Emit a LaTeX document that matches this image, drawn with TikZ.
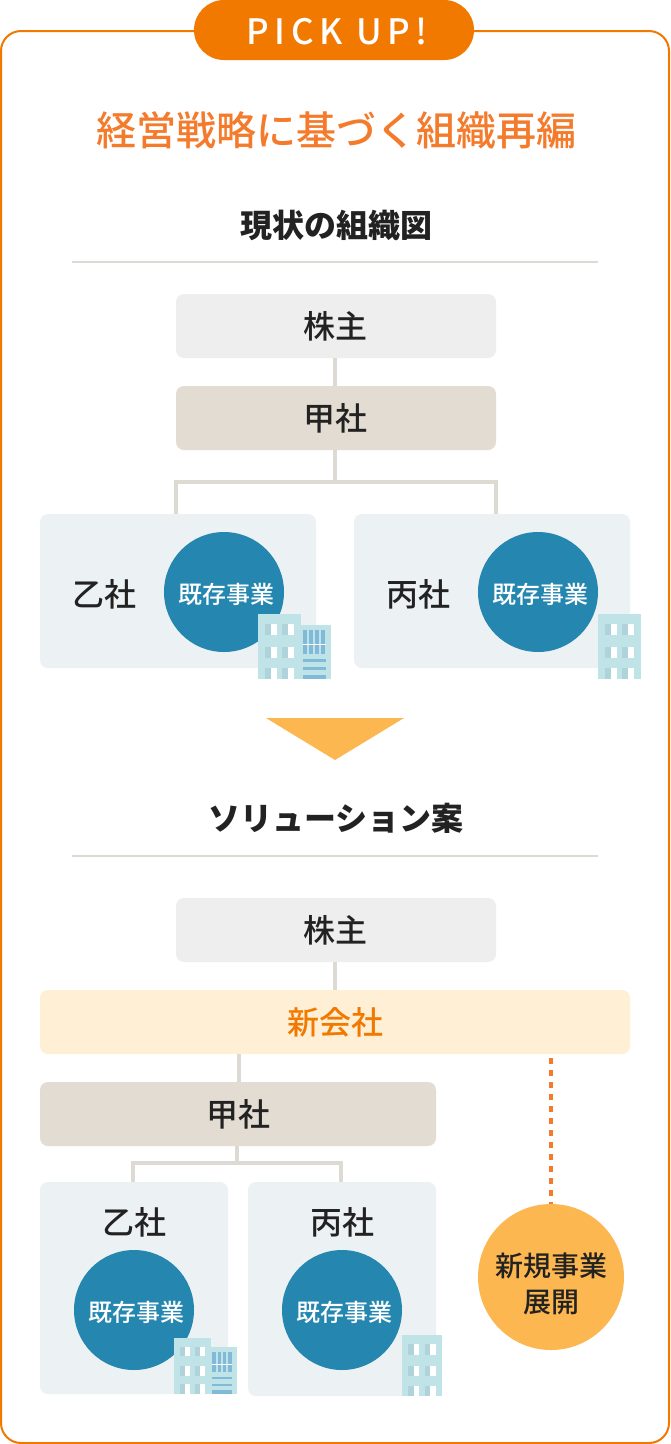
\documentclass[tikz,border=0pt]{standalone}
\usepackage{fontspec}
\setmainfont{Noto Sans CJK JP}
\newfontfamily\med{Noto Sans CJK JP Medium}
\newfontfamily\spaced[LetterSpace=16]{Noto Sans CJK JP Medium}
\definecolor{frameor}{HTML}{F27900}
\definecolor{titleor}{HTML}{F47B2C}
\definecolor{ink}{HTML}{222222}
\definecolor{greybox}{HTML}{EEEEEE}
\definecolor{tanbox}{HTML}{E3DCD2}
\definecolor{palebox}{HTML}{ECF1F4}
\definecolor{bluec}{HTML}{2587B0}
\definecolor{yellowbox}{HTML}{FFF0D5}
\definecolor{orangec}{HTML}{FDB750}
\definecolor{linec}{HTML}{DDDAD3}
\definecolor{bldg}{HTML}{C0E3E7}
\definecolor{winshade}{HTML}{B0D2DA}
\definecolor{winblue}{HTML}{80BAD8}
\newcommand{\fsz}[1]{\fontsize{#1}{#1}\selectfont}
\tikzset{
  x=1pt,y=-1pt,
  boxbase/.style={rounded corners=8pt,inner sep=0pt,outer sep=0pt,text=ink,font=\fsz{32}\med},
  greyb/.style={boxbase,fill=greybox,minimum width=320pt,minimum height=64pt},
  tanb/.style={boxbase,fill=tanbox,minimum height=64pt},
  paleb/.style={boxbase,fill=palebox},
  yellowb/.style={boxbase,fill=yellowbox,minimum width=590pt,minimum height=64pt,text=frameor,font=\fsz{32}\med},
  bizc/.style={circle,fill=bluec,minimum size=120pt,inner sep=0pt,outer sep=0pt},
  biztxt/.style={inner sep=0pt,text=white,font=\fsz{24}\med},
  newc/.style={circle,fill=orangec,minimum size=146pt,inner sep=0pt,outer sep=0pt},
  newtxt/.style={inner sep=0pt,text=ink,font=\fsz{28}\med},
  lbl/.style={inner sep=0pt,text=ink,font=\fsz{32}\med},
  head/.style={inner sep=0pt,text=ink,font=\fsz{32}\bfseries},
  conn/.style={draw=linec,line width=4pt},
  rule/.style={draw=linec,line width=2pt},
}
\newcommand{\towerA}{%
  \fill[bldg] (0,0) rectangle (43,65);
  \foreach \yy in {10,32.7,54}{
    \fill[winshade] (6.7,\yy) rectangle (12.5,{min(\yy+11,65)});
    \fill[white] (12.5,\yy) rectangle (18.5,{min(\yy+11,65)});
    \fill[winshade] (24,\yy) rectangle (30,{min(\yy+11,65)});
    \fill[white] (30,\yy) rectangle (36,{min(\yy+11,65)});
  }}
\newcommand{\towerB}{%
  \fill[bldg] (39.7,11) rectangle (73,65);
  \foreach \xx in {44.7,50.7,56.7,62.7}{
    \fill[winblue] (\xx,16) rectangle (\xx+4.3,30);
    \fill[winblue] (\xx,31) rectangle (\xx+4.3,40);
  }
  \fill[white] (44.7,30) rectangle (68,31);
  \fill[winblue] (44.7,45) rectangle (68,48);
  \fill[winblue] (44.7,53) rectangle (68,56);
  \fill[winblue] (44.7,61) rectangle (68,65);}
\begin{document}
\begin{tikzpicture}
\useasboundingbox (0,0) rectangle (670,1444);
\fill[white] (0,0) rectangle (670,1444);
\draw[frameor,line width=2pt,rounded corners=20pt] (1,31) rectangle (669,1443);
\node[fill=frameor,rounded corners=30pt,minimum width=280pt,minimum height=60pt,inner sep=0pt,outer sep=0pt] (pick) at (334,30) {};
\node[inner sep=0pt,text=white,font=\fsz{35}\spaced] (pickt) at (337,31.5) {PICK UP!};
\node[inner sep=0pt,text=titleor,font=\fsz{40}\med] (title) at (336,130) {経営戦略に基づく組織再編};
% current structure
\node[head] (h1) at (336,225) {現状の組織図};
\coordinate (r1a) at (72,262); \coordinate (r1b) at (598,262);
\draw[rule] (r1a) -- (r1b);
\node[greyb] (kabu1) at (336,326) {\hspace*{-2pt}株主};
\node[tanb,minimum width=320pt] (kou1) at (336,418) {\hspace*{-2pt}甲社};
\node[paleb,minimum width=276pt,minimum height=154pt] (otsu1) at (178,591) {};
\node[paleb,minimum width=276pt,minimum height=154pt] (hei1) at (492,591) {};
\node[lbl] (otsu1t) at (104,594) {乙社};
\node[lbl] (hei1t) at (418,594) {丙社};
\node[bizc] (biz1) at (224,592) {};
\node[bizc] (biz2) at (538,592) {};
\node[biztxt] (biz1t) at (226.5,594) {既存事業};
\node[biztxt] (biz2t) at (540,594) {既存事業};
\coordinate (j1) at (335,482); \coordinate (d1) at (176,514); \coordinate (d2) at (496,514);
\draw[conn] (kabu1.south -| j1) -- (kou1.north -| j1);
\draw[conn] (kou1.south -| j1) -- (j1);
\draw[conn] (d1) |- (j1) -| (d2);
\begin{scope}[shift={(258,614)}]\towerA\towerB\end{scope}
\begin{scope}[shift={(598,614)}]\towerA\end{scope}
% arrow
\fill[orangec] (266,718) -- (404,718) -- (335,760) -- cycle;
% proposal
\node[head] (h2) at (336,818.5) {ソリューション案};
\coordinate (r2a) at (72,856); \coordinate (r2b) at (598,856);
\draw[rule] (r2a) -- (r2b);
\node[greyb] (kabu2) at (336,930) {\hspace*{-2pt}株主};
\node[yellowb] (shin) at (335,1022) {新会社};
\node[tanb,minimum width=396pt] (kou2) at (238,1114) {甲社};
\node[paleb,minimum width=188pt,minimum height=212pt] (otsu2) at (134,1288) {};
\node[paleb,minimum width=188pt,minimum height=214pt] (hei2) at (342,1289) {};
\node[lbl] (otsu2t) at (134.5,1222) {乙社};
\node[lbl] (hei2t) at (342.5,1222) {丙社};
\coordinate (j2) at (237,1163); \coordinate (d3) at (133,1182); \coordinate (d4) at (341,1182);
\coordinate (s2) at (239,1054); \coordinate (s3) at (551,1058);
\node[bizc] (biz3) at (134,1310) {};
\node[bizc] (biz4) at (342,1310) {};
\node[biztxt] (biz3t) at (136.5,1312) {既存事業};
\node[biztxt] (biz4t) at (344.5,1312) {既存事業};
\draw[titleor,line width=4pt,dash pattern=on 6pt off 6pt] (s3) -- (551,1210);
\node[newc] (newb) at (551,1277) {};
\node[newtxt] (newt1) at (551,1266) {新規事業};
\node[newtxt] (newt2) at (551,1302) {展開};
\draw[conn] (kabu2.south -| j1) -- (shin.north -| j1);
\draw[conn] (s2) -- (kou2.north -| s2);
\draw[conn] (kou2.south -| j2) -- (j2);
\draw[conn] (d3) |- (j2) -| (d4);
\begin{scope}[shift={(174,1338)},scale=0.86]\towerA\towerB\end{scope}
\begin{scope}[shift={(402,1335)},scale=0.94]\towerA\end{scope}
\end{tikzpicture}
\end{document}
